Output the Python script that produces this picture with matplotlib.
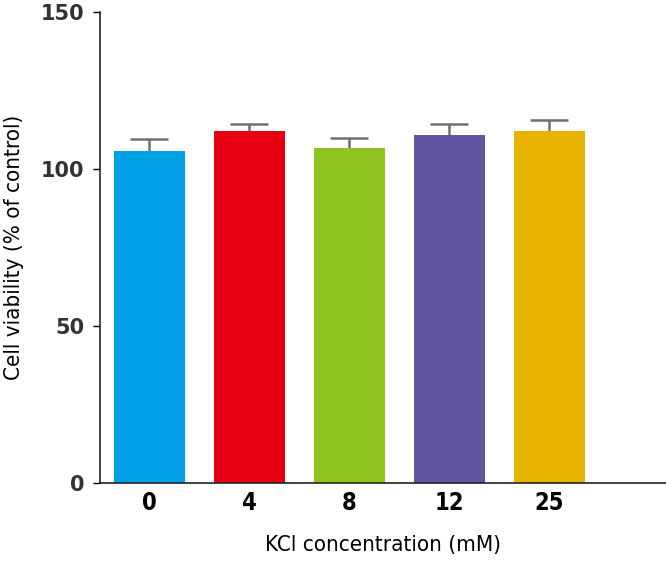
import matplotlib
matplotlib.use("Agg")
import matplotlib.pyplot as plt

concentrations = ["0", "4", "8", "12", "25"]
viability = [105.7, 112.1, 106.8, 110.8, 112.1]
errors = [3.8, 2.3, 3.2, 3.4, 3.5]
colors = ["#00A0E6", "#E60012", "#8FC31F", "#5F55A0", "#E6B400"]

fig = plt.figure(figsize=(6.66, 5.66), dpi=100)
ax = fig.add_axes([0.150, 0.1466, 0.850, 0.8322])

x = list(range(len(concentrations)))
# symmetric bars drawn behind the columns, so only the upper half shows
ax.errorbar(x, viability, yerr=errors, fmt="none",
            ecolor="#707070", elinewidth=1.8, capsize=14, capthick=1.8, zorder=1)
ax.bar(x, viability, width=0.71, color=colors, zorder=2)

ax.set_xlim(-0.495, 5.17)
ax.set_ylim(0, 150)
ax.set_yticks([0, 50, 100, 150])
ax.set_xticks(x)
ax.set_xticklabels(concentrations, fontsize=17, fontweight="semibold", fontstretch="condensed")
ax.tick_params(axis="x", length=0, pad=6)
ax.tick_params(axis="y", length=5, width=1, pad=6, labelsize=15)
for lbl in ax.get_yticklabels():
    lbl.set_fontweight("bold")
    lbl.set_color("#333333")

for side in ("top", "right"):
    ax.spines[side].set_visible(False)
for side in ("left", "bottom"):
    ax.spines[side].set_linewidth(1.2)
    ax.spines[side].set_color("#222222")

ax.set_ylabel("Cell viability (% of control)", fontsize=16, fontstretch="condensed", labelpad=12)
ax.set_xlabel("KCl concentration (mM)", fontsize=16, fontstretch="condensed", labelpad=14)

fig.savefig("out.png", dpi=100)
